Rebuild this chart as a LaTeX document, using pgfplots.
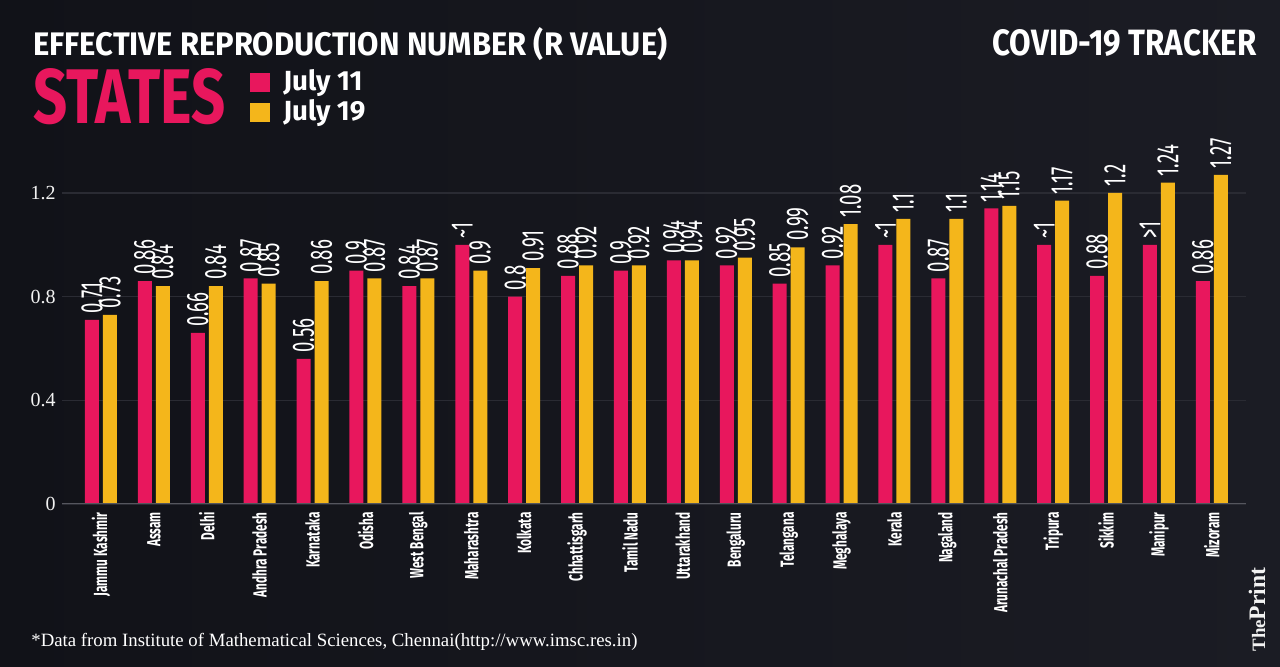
\documentclass[border=0pt]{standalone}
\usepackage{pgfplots}
\pgfplotsset{compat=1.18}
\usepackage{fontspec}
\setmainfont{Liberation Serif}
\newfontfamily\headfont[FakeStretch=0.75]{Fira Sans}
\newfontfamily\valfont[FakeStretch=0.6]{Fira Sans}
\newfontfamily\catfont[FakeStretch=0.62]{Fira Sans}

\definecolor{bgL}{HTML}{111218}
\definecolor{bgR}{HTML}{1B1C24}
\definecolor{rpink}{HTML}{E8175D}
\definecolor{ryellow}{HTML}{F4B61B}
\definecolor{gridc}{HTML}{2A2B33}
\definecolor{axisc}{HTML}{55565E}

\begin{document}
\begin{tikzpicture}
\fill[left color=bgL, right color=bgR] (0,0) rectangle (640pt,333.5pt);

% headings
\node[anchor=base west, inner sep=0pt, text=white] at (16.5pt,305.5pt)
  {\resizebox{317pt}{14pt}{\headfont\bfseries\fontsize{20}{20}\selectfont EFFECTIVE REPRODUCTION NUMBER (R VALUE)}};
\node[anchor=base east, inner sep=0pt, text=white] at (628.5pt,305.5pt)
  {\resizebox{132pt}{13pt}{\headfont\bfseries\fontsize{20}{20}\selectfont COVID-19 TRACKER}};
\node[anchor=base west, inner sep=0pt, text=rpink] at (16.5pt,271.5pt)
  {\resizebox{96pt}{27.5pt}{\headfont\bfseries\fontsize{20}{20}\selectfont STATES}};

% legend
\fill[rpink] (125pt,287.5pt) rectangle (135pt,297pt);
\fill[ryellow] (125pt,272.5pt) rectangle (135pt,282pt);
\node[anchor=base west, inner sep=0pt, text=white] at (141.5pt,288pt)
  {\resizebox{39.5pt}{10.5pt}{\headfont\bfseries\fontsize{14}{14}\selectfont July 11}};
\node[anchor=base west, inner sep=0pt, text=white] at (141.5pt,273pt)
  {\resizebox{41pt}{10.5pt}{\headfont\bfseries\fontsize{14}{14}\selectfont July 19}};

\begin{axis}[
  at={(31pt,81.5pt)}, anchor=south west,
  scale only axis, width=592pt, height=168.5pt,
  ybar=2pt, bar width=7pt,
  xmin=-0.737, xmax=21.645, ymin=0, ymax=1.3,
  xtick={0,...,21},
  xticklabels={Jammu Kashmir, Assam, Delhi, Andhra Pradesh, Karnataka, Odisha,
    West Bengal, Maharashtra, Kolkata, Chhattisgarh, Tamil Nadu, Uttarakhand,
    Bengaluru, Telangana, Meghalaya, Kerala, Nagaland, Arunachal Pradesh,
    Tripura, Sikkim, Manipur, Mizoram},
  ytick={0,0.4,0.8,1.2}, yticklabels={0,0.4,0.8,1.2},
  ymajorgrids, grid style={gridc, line width=0.6pt},
  axis line style={draw=none}, major tick length=0pt,
  xticklabel style={rotate=90, anchor=east, text=white, inner xsep=4pt, inner ysep=0pt,
    font=\catfont\bfseries\fontsize{9.5}{9.5}\selectfont},
  yticklabel style={text=white!90!gray, inner sep=0pt, xshift=-3pt,
    font=\fontsize{10}{10}\selectfont},
  nodes near coords, point meta=explicit symbolic,
  every node near coord/.append style={rotate=90, anchor=west, text=white,
    inner xsep=3pt, inner ysep=0pt, font=\valfont\fontsize{15.5}{15.5}\selectfont},
]
\addplot[fill=rpink, draw=none] coordinates {
  (0,0.71) [0.71] (1,0.86) [0.86] (2,0.66) [0.66] (3,0.87) [0.87]
  (4,0.56) [0.56] (5,0.9) [0.9] (6,0.84) [0.84] (7,1.0) [\textasciitilde 1]
  (8,0.8) [0.8] (9,0.88) [0.88] (10,0.9) [0.9] (11,0.94) [0.94]
  (12,0.92) [0.92] (13,0.85) [0.85] (14,0.92) [0.92] (15,1.0) [\textasciitilde 1]
  (16,0.87) [0.87] (17,1.14) [1.14] (18,1.0) [\textasciitilde 1] (19,0.88) [0.88]
  (20,1.0) [>1] (21,0.86) [0.86]
};
\addplot[fill=ryellow, draw=none] coordinates {
  (0,0.73) [0.73] (1,0.84) [0.84] (2,0.84) [0.84] (3,0.85) [0.85]
  (4,0.86) [0.86] (5,0.87) [0.87] (6,0.87) [0.87] (7,0.9) [0.9]
  (8,0.91) [0.91] (9,0.92) [0.92] (10,0.92) [0.92] (11,0.94) [0.94]
  (12,0.95) [0.95] (13,0.99) [0.99] (14,1.08) [1.08] (15,1.1) [1.1]
  (16,1.1) [1.1] (17,1.15) [1.15] (18,1.17) [1.17] (19,1.2) [1.2]
  (20,1.24) [1.24] (21,1.27) [1.27]
};
\draw[axisc, line width=1.2pt] (axis cs:-0.737,0) -- (axis cs:21.645,0);
\end{axis}

% footnote and logo
\node[anchor=base west, inner sep=0pt, text=white] at (15.5pt,10pt)
  {\resizebox{303pt}{!}{\fontsize{9}{9}\selectfont *Data from Institute of Mathematical Sciences, Chennai(http://www.imsc.res.in)}};
\node[rotate=90, anchor=base west, inner sep=0pt, text=white!90!gray] at (632.5pt,7.5pt)
  {\resizebox{42pt}{!}{\bfseries\fontsize{10}{10}\selectfont{\fontsize{8}{8}\selectfont The}Print}};

\pgfresetboundingbox
\path[use as bounding box] (0,0) rectangle (640pt,333.5pt);
\end{tikzpicture}
\end{document}
